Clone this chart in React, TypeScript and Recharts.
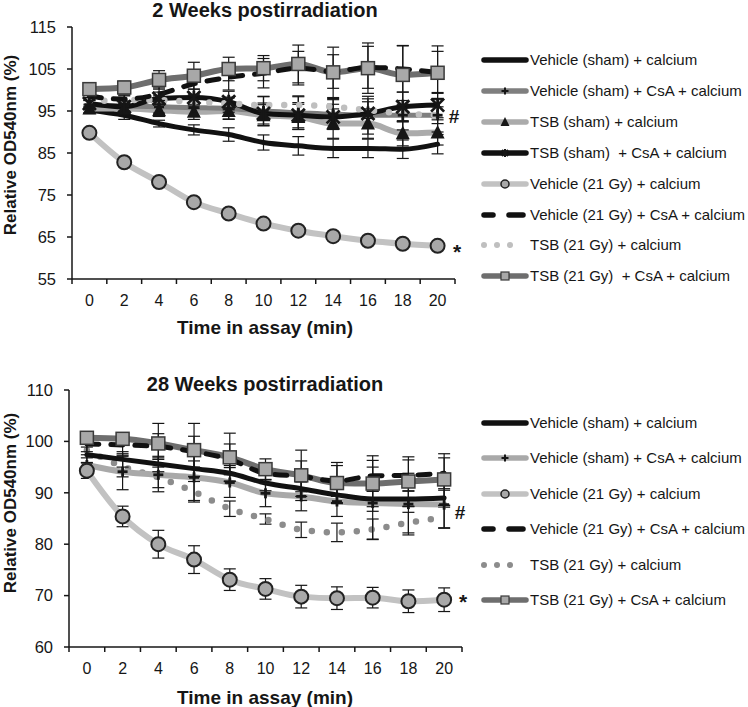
import React from "react";
import { LineChart, Line, XAxis, YAxis, ErrorBar } from "recharts";

const TIME = [0, 2, 4, 6, 8, 10, 12, 14, 16, 18, 20];
const W2_Y_TICKS = [55, 65, 75, 85, 95, 105, 115];
const W28_Y_TICKS = [60, 70, 80, 90, 100, 110];

// 2 weeks postirradiation
const W2_VEH_SHAM = [95.2, 94.0, 92.0, 90.5, 89.4, 87.5, 86.7, 86.1, 86.1, 85.9, 87.1];
const W2_VEH_SHAM_ERR = [0.8, 1.0, 0.8, 1.2, 1.6, 1.8, 2.2, 2.2, 2.2, 2.2, 2.3];
const W2_VEH_SHAM_CSA = [96.5, 96.2, 96.0, 95.8, 95.6, 95.0, 94.6, 94.2, 94.0, 94.0, 94.0];
const W2_VEH_SHAM_CSA_ERR = [1.0, 1.2, 1.5, 2.0, 2.5, 3.5, 4.0, 3.5, 4.5, 3.5, 4.0];
const W2_TSB_SHAM = [95.6, 95.6, 95.2, 94.8, 95.0, 94.0, 93.6, 92.0, 92.0, 89.7, 89.9];
const W2_TSB_SHAM_ERR = [1.0, 1.0, 1.5, 1.8, 2.0, 2.5, 3.0, 3.5, 3.5, 3.0, 3.0];
const W2_TSB_SHAM_CSA = [96.8, 96.0, 98.0, 98.2, 97.2, 94.4, 94.0, 93.6, 94.4, 96.0, 96.4];
const W2_TSB_SHAM_CSA_ERR = [1.0, 1.2, 1.5, 2.0, 2.5, 2.5, 3.0, 3.0, 3.5, 3.5, 3.0];
const W2_VEH_21 = [89.8, 82.8, 78.1, 73.3, 70.6, 68.2, 66.5, 65.2, 64.1, 63.4, 62.9];
const W2_VEH_21_ERR = [1.0, 0.8, 0.8, 0.8, 0.8, 0.8, 0.8, 0.8, 0.8, 0.8, 0.8];
const W2_VEH_21_CSA = [98.5, 97.8, 99.0, 101.5, 103.0, 104.0, 105.2, 104.4, 105.4, 105.0, 104.2];
const W2_VEH_21_CSA_ERR = [1.0, 1.0, 1.5, 2.5, 3.0, 3.5, 4.0, 4.0, 5.0, 5.5, 5.0];
const W2_TSB_21 = [97.2, 97.6, 97.6, 97.2, 96.8, 96.4, 96.4, 96.0, 95.2, 94.4, 94.0];
const W2_TSB_21_ERR = [1.0, 1.0, 1.0, 1.5, 1.5, 2.0, 2.0, 2.0, 2.0, 2.0, 2.0];
const W2_TSB_21_CSA = [100.2, 100.6, 102.4, 103.4, 105.0, 105.2, 106.2, 104.2, 105.2, 103.6, 104.1];
const W2_TSB_21_CSA_ERR = [1.0, 1.5, 2.2, 3.2, 2.8, 3.0, 4.5, 6.0, 6.0, 7.0, 6.4];

// 28 weeks postirradiation
const W28_VEH_SHAM = [97.4, 96.5, 95.6, 94.7, 93.8, 91.9, 90.8, 89.6, 88.8, 88.8, 89.0];
const W28_VEH_SHAM_ERR = [1.5, 1.5, 1.5, 1.5, 1.5, 1.5, 1.5, 1.5, 1.5, 1.5, 1.5];
const W28_VEH_SHAM_CSA = [95.4, 94.1, 93.5, 93.0, 92.0, 89.9, 89.3, 88.3, 88.0, 87.8, 87.7];
const W28_VEH_SHAM_CSA_ERR = [2.0, 3.5, 3.3, 4.5, 2.9, 2.6, 2.8, 2.9, 7.0, 6.0, 4.6];
const W28_VEH_21 = [94.3, 85.4, 80.0, 77.0, 73.1, 71.3, 69.8, 69.5, 69.6, 68.9, 69.2];
const W28_VEH_21_ERR = [1.5, 2.0, 2.7, 2.7, 2.1, 2.0, 2.2, 2.2, 2.0, 2.2, 2.3];
const W28_VEH_21_CSA = [99.5, 99.3, 99.0, 98.0, 96.5, 93.8, 93.2, 92.3, 93.3, 93.4, 93.8];
const W28_VEH_21_CSA_ERR = [1.5, 2.0, 2.5, 3.0, 3.0, 2.0, 3.0, 3.0, 3.0, 3.0, 3.0];
const W28_TSB_21 = [98.3, 95.1, 93.0, 90.2, 86.9, 84.9, 82.8, 82.3, 82.9, 84.2, 85.2];
const W28_TSB_21_ERR = [1.5, 2.0, 2.0, 2.0, 1.5, 1.0, 1.5, 1.8, 2.0, 2.0, 2.0];
const W28_TSB_21_CSA = [100.7, 100.5, 99.6, 98.3, 96.9, 94.6, 93.4, 91.9, 91.8, 92.2, 92.6];
const W28_TSB_21_CSA_ERR = [1.2, 1.0, 3.9, 5.2, 4.7, 2.0, 4.9, 4.0, 5.4, 4.8, 5.0];

type Marker = "none" | "plus" | "triangle" | "star" | "circle" | "square";

interface SeriesDef {
  key: string;
  name: string;
  color: string;
  width: number;
  dash?: string;
  marker: Marker;
  values: number[];
  errors: number[];
}

const FONT = '"Liberation Sans", Arial, sans-serif';
const INK = "#161616";

const drawMarker = (marker: Marker, cx: number, cy: number, key?: string | number) => {
  switch (marker) {
    case "plus":
      return (
        <g key={key}>
          <line x1={cx - 5} x2={cx + 5} y1={cy} y2={cy} stroke={INK} strokeWidth={2.8} />
          <line x1={cx} x2={cx} y1={cy - 5} y2={cy + 5} stroke={INK} strokeWidth={2.8} />
        </g>
      );
    case "triangle":
      return (
        <polygon key={key} points={`${cx},${cy - 7.5} ${cx + 7},${cy + 6} ${cx - 7},${cy + 6}`} fill={INK} />
      );
    case "star":
      return (
        <g key={key} stroke={INK} strokeWidth={2.8}>
          <line x1={cx - 6.5} x2={cx + 6.5} y1={cy - 6.5} y2={cy + 6.5} />
          <line x1={cx - 6.5} x2={cx + 6.5} y1={cy + 6.5} y2={cy - 6.5} />
          <line x1={cx} x2={cx} y1={cy - 7} y2={cy + 7} />
        </g>
      );
    case "circle":
      return <circle key={key} cx={cx} cy={cy} r={7} fill="#a8a8a8" stroke="#222" strokeWidth={2} />;
    case "square":
      return (
        <rect key={key} x={cx - 6.5} y={cy - 6.5} width={13} height={13} fill="#a8a8a8" stroke="#3a3a3a" strokeWidth={1.5} />
      );
    default:
      return <g key={key} />;
  }
};

const W2_SERIES: SeriesDef[] = [
  { key: "vehSham", name: "Vehicle (sham) + calcium", color: "#111", width: 5, marker: "none", values: W2_VEH_SHAM, errors: W2_VEH_SHAM_ERR },
  { key: "vehShamCsa", name: "Vehicle (sham) + CsA + calcium", color: "#7f7f7f", width: 5, marker: "plus", values: W2_VEH_SHAM_CSA, errors: W2_VEH_SHAM_CSA_ERR },
  { key: "tsbSham", name: "TSB (sham) + calcium", color: "#ababab", width: 6, marker: "triangle", values: W2_TSB_SHAM, errors: W2_TSB_SHAM_ERR },
  { key: "tsbShamCsa", name: "TSB (sham)  + CsA + calcium", color: "#111", width: 5, marker: "star", values: W2_TSB_SHAM_CSA, errors: W2_TSB_SHAM_CSA_ERR },
  { key: "veh21", name: "Vehicle (21 Gy) + calcium", color: "#c2c2c2", width: 6, marker: "circle", values: W2_VEH_21, errors: W2_VEH_21_ERR },
  { key: "veh21Csa", name: "Vehicle (21 Gy) + CsA + calcium", color: "#111", width: 5, dash: "12 12", marker: "none", values: W2_VEH_21_CSA, errors: W2_VEH_21_CSA_ERR },
  { key: "tsb21", name: "TSB (21 Gy) + calcium", color: "#bfbfbf", width: 6.5, dash: "0 15", marker: "none", values: W2_TSB_21, errors: W2_TSB_21_ERR },
  { key: "tsb21Csa", name: "TSB (21 Gy)  + CsA + calcium", color: "#6e6e6e", width: 6, marker: "square", values: W2_TSB_21_CSA, errors: W2_TSB_21_CSA_ERR },
];
const W2_DRAW_ORDER = ["vehSham", "tsbSham", "vehShamCsa", "tsbShamCsa", "tsb21", "tsb21Csa", "veh21Csa", "veh21"];

const W28_SERIES: SeriesDef[] = [
  { key: "vehSham", name: "Vehicle (sham) + calcium", color: "#111", width: 5, marker: "none", values: W28_VEH_SHAM, errors: W28_VEH_SHAM_ERR },
  { key: "vehShamCsa", name: "Vehicle (sham) + CsA + calcium", color: "#a9a9a9", width: 6, marker: "plus", values: W28_VEH_SHAM_CSA, errors: W28_VEH_SHAM_CSA_ERR },
  { key: "veh21", name: "Vehicle (21 Gy) + calcium", color: "#c2c2c2", width: 6, marker: "circle", values: W28_VEH_21, errors: W28_VEH_21_ERR },
  { key: "veh21Csa", name: "Vehicle (21 Gy) + CsA + calcium", color: "#111", width: 5, dash: "12 12", marker: "none", values: W28_VEH_21_CSA, errors: W28_VEH_21_CSA_ERR },
  { key: "tsb21", name: "TSB (21 Gy) + calcium", color: "#8c8c8c", width: 6.5, dash: "0 15", marker: "none", values: W28_TSB_21, errors: W28_TSB_21_ERR },
  { key: "tsb21Csa", name: "TSB (21 Gy) + CsA + calcium", color: "#6e6e6e", width: 6, marker: "square", values: W28_TSB_21_CSA, errors: W28_TSB_21_CSA_ERR },
];
const W28_DRAW_ORDER = ["tsb21", "vehShamCsa", "vehSham", "tsb21Csa", "veh21Csa", "veh21"];

const buildRows = (series: SeriesDef[]) =>
  TIME.map((t, i) => {
    const row: Record<string, number> = { t };
    series.forEach((s) => {
      row[s.key] = s.values[i];
      row[s.key + "Err"] = s.errors[i];
    });
    return row;
  });

// category-style axis: tick marks sit between the time labels
const BAND_EDGES = TIME.map((t) => t - 1).concat(TIME[TIME.length - 1] + 1);

const BandTick = (props: any) => {
  const { x, y, payload, half } = props;
  if (payload.value >= TIME[TIME.length - 1]) return <g />;
  return (
    <text x={x + half} y={y} dy="0.71em" textAnchor="middle" fontSize={16} fill={INK} fontFamily={FONT}>
      {payload.value + 1}
    </text>
  );
};

interface PanelProps {
  series: SeriesDef[];
  order: string[];
  yDomain: [number, number];
  yTicks: number[];
  width: number;
  height: number;
  margin: { top: number; right: number; bottom: number; left: number };
  yAxisWidth: number;
  half: number;
}

const Panel = ({ series, order, yDomain, yTicks, width, height, margin, yAxisWidth, half }: PanelProps) => {
  const rows = buildRows(series);
  const ordered = order.map((k) => series.find((s) => s.key === k)!);
  return (
    <LineChart width={width} height={height} data={rows} margin={margin}>
      <XAxis
        dataKey="t"
        type="number"
        domain={[BAND_EDGES[0], BAND_EDGES[BAND_EDGES.length - 1]]}
        ticks={BAND_EDGES}
        interval={0}
        height={30}
        tickSize={5}
        tickMargin={11}
        axisLine={{ stroke: INK, strokeWidth: 1.5 }}
        tickLine={{ stroke: INK, strokeWidth: 1.5 }}
        tick={<BandTick half={half} />}
      />
      <YAxis
        domain={yDomain}
        ticks={yTicks}
        interval={0}
        width={yAxisWidth}
        tickSize={5}
        tickMargin={11}
        axisLine={{ stroke: INK, strokeWidth: 1.5 }}
        tickLine={{ stroke: INK, strokeWidth: 1.5 }}
        tick={{ fill: INK, fontSize: 16.5, fontFamily: FONT }}
      />
      {ordered.map((s) => (
        <Line
          key={s.key}
          dataKey={s.key}
          type="monotone"
          stroke={s.color}
          strokeWidth={s.width}
          strokeDasharray={s.dash}
          strokeLinecap="round"
          isAnimationActive={false}
          dot={s.marker === "none" ? false : (p: any) => drawMarker(s.marker, p.cx, p.cy, p.index)}
          activeDot={false}
        >
          <ErrorBar dataKey={s.key + "Err"} width={6} stroke={INK} strokeWidth={1.2} />
        </Line>
      ))}
    </LineChart>
  );
};

const LegendSwatch = ({ s }: { s: SeriesDef }) => {
  let line: React.ReactNode;
  if (s.dash === "0 15") {
    line = [3, 16, 29].map((x) => <circle key={x} cx={x} cy={7} r={3} fill={s.color} />);
  } else if (s.dash) {
    line = (
      <g stroke={s.color} strokeWidth={5.5} strokeLinecap="round">
        <line x1={3} x2={12} y1={7} y2={7} />
        <line x1={28} x2={42} y1={7} y2={7} />
      </g>
    );
  } else {
    line = <line x1={3} x2={45} y1={7} y2={7} stroke={s.color} strokeWidth={5.5} strokeLinecap="round" />;
  }
  const m = s.marker === "circle" || s.marker === "square" ? "small-" + s.marker : s.marker;
  return (
    <svg width={48} height={14} style={{ display: "block" }}>
      {line}
      {m === "small-circle" ? (
        <circle cx={24} cy={7} r={4} fill="#a8a8a8" stroke="#222" strokeWidth={1.5} />
      ) : m === "small-square" ? (
        <rect x={20} y={3} width={8} height={8} fill="#a8a8a8" stroke="#3a3a3a" strokeWidth={1.2} />
      ) : m === "triangle" ? (
        <polygon points="24,2 28.5,11 19.5,11" fill={INK} />
      ) : m === "plus" ? (
        <g stroke={INK} strokeWidth={2}>
          <line x1={20.5} x2={27.5} y1={7} y2={7} />
          <line x1={24} x2={24} y1={3.5} y2={10.5} />
        </g>
      ) : m === "star" ? (
        <g stroke={INK} strokeWidth={2}>
          <line x1={21} x2={27} y1={4} y2={10} />
          <line x1={21} x2={27} y1={10} y2={4} />
          <line x1={24} x2={24} y1={3} y2={11} />
        </g>
      ) : null}
    </svg>
  );
};

const LegendBlock = ({ series, top, step }: { series: SeriesDef[]; top: number; step: number }) => (
  <>
    {series.map((s, i) => (
      <div
        key={s.key}
        style={{
          position: "absolute",
          left: 481,
          top: top + i * step - 7,
          height: 14,
          display: "flex",
          alignItems: "center",
          whiteSpace: "pre",
        }}
      >
        <LegendSwatch s={s} />
        <span style={{ marginLeft: 1, fontSize: 15, color: INK, lineHeight: "14px" }}>{s.name}</span>
      </div>
    ))}
  </>
);

const TextAt = ({ x, y, text, size, bold, rotate }: { x: number; y: number; text: string; size: number; bold?: boolean; rotate?: boolean }) => (
  <div
    style={{
      position: "absolute",
      left: x,
      top: y,
      transform: `translate(-50%, -50%)${rotate ? " rotate(-90deg)" : ""}`,
      fontSize: size,
      fontWeight: bold ? 700 : 400,
      lineHeight: 1,
      whiteSpace: "pre",
      color: INK,
    }}
  >
    {text}
  </div>
);

export default function App() {
  return (
    <div
      style={{
        position: "absolute",
        left: 0,
        top: 0,
        width: 748,
        height: 707,
        background: "#fff",
        fontFamily: FONT,
        overflow: "hidden",
      }}
    >
      <div style={{ position: "absolute", left: 0, top: 0 }}>
        <Panel
          series={W2_SERIES}
          order={W2_DRAW_ORDER}
          yDomain={[55, 115]}
          yTicks={W2_Y_TICKS}
          width={470}
          height={340}
          margin={{ top: 27, right: 15, bottom: 31, left: 0 }}
          yAxisWidth={72}
          half={17.4}
        />
      </div>
      <div style={{ position: "absolute", left: 0, top: 340 }}>
        <Panel
          series={W28_SERIES}
          order={W28_DRAW_ORDER}
          yDomain={[60, 110]}
          yTicks={W28_Y_TICKS}
          width={470}
          height={367}
          margin={{ top: 50, right: 8, bottom: 30, left: 0 }}
          yAxisWidth={69}
          half={17.9}
        />
      </div>

      <TextAt x={265} y={10} text="2 Weeks postirradiation" size={20} bold />
      <TextAt x={10} y={145} text="Relative OD540nm (%)" size={17} bold rotate />
      <TextAt x={265} y={327} text="Time in assay (min)" size={19} bold />
      <TextAt x={454} y={116} text="#" size={19} bold />
      <TextAt x={457} y={251} text="*" size={21} bold />

      <TextAt x={265} y={384} text="28 Weeks postirradiation" size={20} bold />
      <TextAt x={10} y={503} text="Relative OD540nm (%)" size={17} bold rotate />
      <TextAt x={265} y={697} text="Time in assay (min)" size={19} bold />
      <TextAt x={460} y={512} text="#" size={19} bold />
      <TextAt x={463} y={601} text="*" size={21} bold />

      <LegendBlock series={W2_SERIES} top={60} step={30.9} />
      <LegendBlock series={W28_SERIES} top={423} step={35.4} />
    </div>
  );
}
